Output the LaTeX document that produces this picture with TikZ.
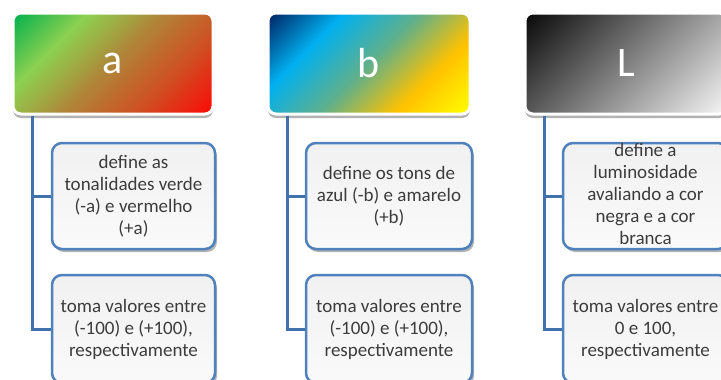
\documentclass[tikz,border=0pt]{standalone}
\usepackage{fontspec}
\setmainfont{Carlito}
\usetikzlibrary{shadows}
\definecolor{connblue}{HTML}{4272AE}
\definecolor{boxblue}{HTML}{4F81BD}
\definecolor{txtgray}{HTML}{3C3C3C}
\pgfdeclarehorizontalshading{gradA}{240bp}{rgb(0bp)=(0.0,0.69,0.31); rgb(10bp)=(0.0,0.69,0.31); rgb(63bp)=(0.55,0.82,0.31); rgb(116bp)=(0.69,0.52,0.22); rgb(169bp)=(0.82,0.30,0.13); rgb(222bp)=(0.99,0.03,0.02); rgb(232bp)=(0.99,0.03,0.02)}
\pgfdeclarehorizontalshading{gradB}{240bp}{rgb(0bp)=(0.0,0.13,0.38); rgb(10bp)=(0.0,0.13,0.38); rgb(63bp)=(0.0,0.69,0.94); rgb(116bp)=(0.37,0.69,0.55); rgb(169bp)=(1.0,0.76,0.0); rgb(222bp)=(1,1,0); rgb(232bp)=(1,1,0)}
\pgfdeclarehorizontalshading{gradL}{240bp}{rgb(0bp)=(0.03,0.03,0.03); rgb(10bp)=(0.03,0.03,0.03); rgb(222bp)=(0.97,0.97,0.97); rgb(232bp)=(0.97,0.97,0.97)}
\tikzset{
  hdr/.style={rectangle, rounded corners=8pt, draw=white, line width=3pt,
    minimum width=200pt, minimum height=101pt, inner sep=0pt, outer sep=0pt,
    text=white, font=\fontsize{42}{46}\selectfont,
    path picture={\node[rotate=-45, inner sep=0pt, outer sep=0pt] at (path picture bounding box.center) {\pgfuseshading{#1}};},
    drop shadow={shadow xshift=0pt, shadow yshift=-4pt, opacity=0.3, fill=black}},
  childbox/.style={rectangle, rounded corners=10pt, draw=boxblue, line width=2.5pt,
    top color=gray!11, bottom color=gray!4,
    minimum width=163pt, inner sep=0pt,
    drop shadow={shadow xshift=2pt, shadow yshift=-3pt, opacity=0.3, fill=black}},
  lbl/.style={align=center, text=txtgray, font=\fontsize{19}{22}\selectfont, inner sep=0pt},
  conn/.style={draw=connblue, line width=3pt}
}
\begin{document}
\begin{tikzpicture}[x=1pt, y=-1pt]
\useasboundingbox (0,0) rectangle (721,380);
\clip (0,0) rectangle (721,380);
% headers
\node[hdr=gradA] (ha) at (113,63.5) {a};
\node[hdr=gradB, minimum width=202pt] (hb) at (369,63.5) {b};
\node[hdr=gradL, minimum width=202pt] (hl) at (626,63.5) {L};
% children
\node[childbox, minimum height=106pt] (a1) at (133.5,196) {};
\node[childbox, minimum height=108pt] (a2) at (133.5,329) {};
\node[childbox, minimum width=166pt, minimum height=106pt] (b1) at (389,196) {};
\node[childbox, minimum width=166pt, minimum height=108pt] (b2) at (389,329) {};
\node[childbox, minimum width=165pt, minimum height=106pt] (l1) at (645.5,196) {};
\node[childbox, minimum width=165pt, minimum height=108pt] (l2) at (645.5,329) {};
% connectors
\draw[conn] ([xshift=19pt,yshift=-1.5pt]ha.south west) |- (a1.west);
\draw[conn] ([xshift=19pt,yshift=-1.5pt]ha.south west) |- (a2.west);
\draw[conn] ([xshift=19pt,yshift=-1.5pt]hb.south west) |- (b1.west);
\draw[conn] ([xshift=19pt,yshift=-1.5pt]hb.south west) |- (b2.west);
\draw[conn] ([xshift=19pt,yshift=-1.5pt]hl.south west) |- (l1.west);
\draw[conn] ([xshift=19pt,yshift=-1.5pt]hl.south west) |- (l2.west);
% texts
\node[lbl] (ta1) at (a1.center) {define as\\tonalidades verde\\(-a) e vermelho\\(+a)};
\node[lbl] (ta2) at (a2.center) {toma valores entre\\(-100) e (+100),\\respectivamente};
\node[lbl] (tb1) at (b1.center) {define os tons de\\azul (-b) e amarelo\\(+b)};
\node[lbl] (tb2) at (b2.center) {toma valores entre\\(-100) e (+100),\\respectivamente};
\node[lbl] (tl1) at ([yshift=2pt]l1.center) {define a\\luminosidade\\avaliando a cor\\negra e a cor\\branca};
\node[lbl] (tl2) at (l2.center) {toma valores entre\\0 e 100,\\respectivamente};
\end{tikzpicture}
\end{document}
